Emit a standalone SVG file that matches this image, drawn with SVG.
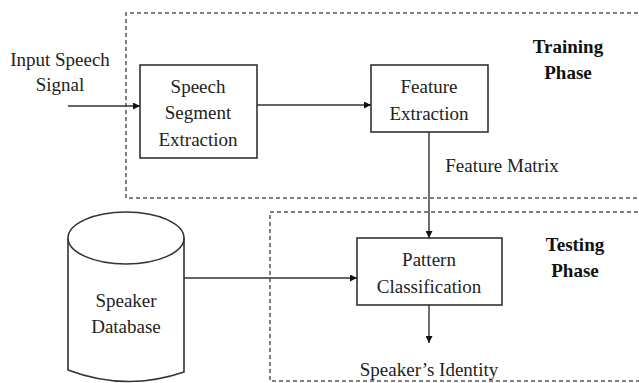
<svg xmlns="http://www.w3.org/2000/svg" width="639" height="383" viewBox="0 0 639 383">
<defs>
<style>
text{font-family:"Liberation Serif","Times New Roman",serif;font-size:19px;fill:#222;text-anchor:middle}
.b{font-weight:bold;fill:#111}
.box{fill:#fff;stroke:#333;stroke-width:1.6}
.dash{fill:none;stroke:#555;stroke-width:1.5;stroke-dasharray:4 3}
.ln{fill:none;stroke:#333;stroke-width:1.4}
</style>
<marker id="ah" viewBox="0 0 10 10" refX="10" refY="5" markerWidth="7" markerHeight="7" orient="auto" markerUnits="userSpaceOnUse"><path d="M0,0 L10,5 L0,10 z" fill="#111"/></marker>
</defs>
<g id="training-phase">
<path class="dash" d="M645,13 H126 V198 H645"/>
<text class="b" x="568" y="53">Training</text>
<text class="b" x="568" y="79">Phase</text>
</g>
<g id="testing-phase">
<path class="dash" d="M645,212 H270 V381 H645"/>
<text class="b" x="575" y="251">Testing</text>
<text class="b" x="575" y="277">Phase</text>
</g>
<g id="input-label">
<text x="60" y="66">Input Speech</text>
<text x="60" y="91">Signal</text>
</g>
<g id="speech-segment-extraction">
<rect class="box" x="140" y="65" width="117" height="93"/>
<text x="198" y="93">Speech</text>
<text x="198" y="119">Segment</text>
<text x="198" y="146">Extraction</text>
</g>
<g id="feature-extraction">
<rect class="box" x="371" y="65" width="117" height="67"/>
<text x="429" y="93">Feature</text>
<text x="429" y="120">Extraction</text>
</g>
<g id="pattern-classification">
<rect class="box" x="357" y="238" width="145" height="67"/>
<text x="429" y="266">Pattern</text>
<text x="429" y="293">Classification</text>
</g>
<g id="speaker-database">
<path class="box" d="M68,238 V370 Q126,392 184,372 V238"/>
<ellipse class="box" cx="126" cy="238" rx="58" ry="26"/>
<text x="126" y="307">Speaker</text>
<text x="126" y="333">Database</text>
</g>
<g id="speaker-identity">
<text x="429" y="376">Speaker’s Identity</text>
</g>
<g id="connectors">
<line class="ln" x1="68" y1="106" x2="140" y2="106" marker-end="url(#ah)"/>
<line class="ln" x1="257" y1="105" x2="371" y2="105" marker-end="url(#ah)"/>
<line class="ln" x1="429" y1="132" x2="429" y2="238" marker-end="url(#ah)"/>
<line class="ln" x1="184" y1="278" x2="357" y2="278" marker-end="url(#ah)"/>
<line class="ln" x1="429" y1="305" x2="429" y2="343" marker-end="url(#ah)"/>
<text x="502" y="172">Feature Matrix</text>
</g>
</svg>
